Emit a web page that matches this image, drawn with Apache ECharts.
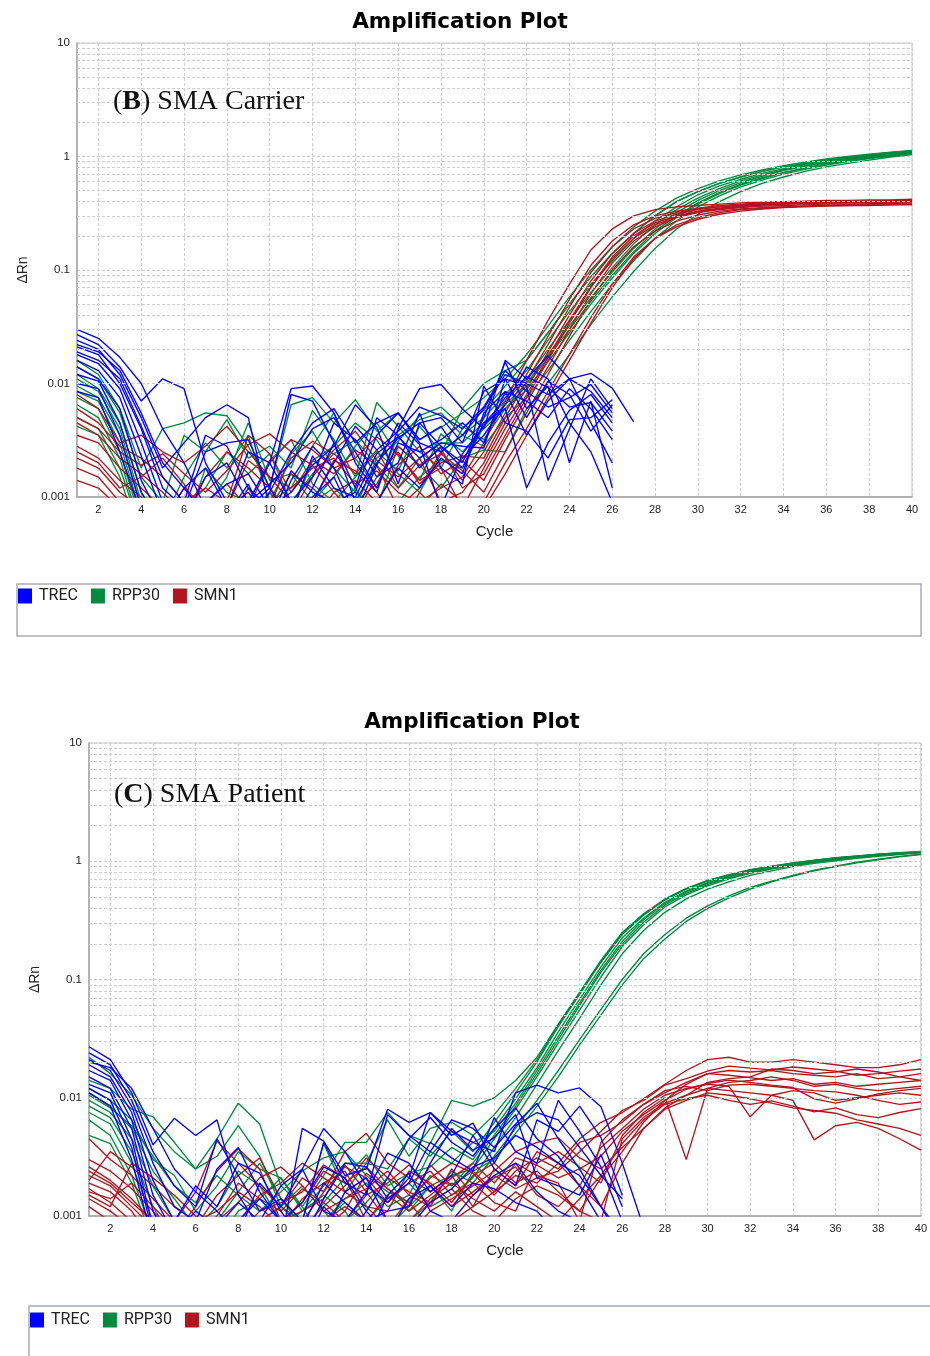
<!DOCTYPE html>
<html><head><meta charset="utf-8">
<script src="https://cdn.jsdelivr.net/npm/echarts@6/dist/echarts.min.js"></script>
<style>html,body{margin:0;padding:0;background:#fff}#c{width:930px;height:1356px}</style>
</head><body><div id="c"></div>
<script>
// ---------- axes / ticks ----------
const cycles = [1,2,3,4,5,6,7,8,9,10,11,12,13,14,15,16,17,18,19,20,21,22,23,24,25,26,27,28,29,30,31,32,33,34,35,36,37,38,39,40];
const yTicks = [0.001, 0.01, 0.1, 1, 10];
const minorGrid = [0.002,0.003,0.004,0.005,0.006,0.007,0.008,0.009,0.02,0.03,0.04,0.05,0.06,0.07,0.08,0.09,0.2,0.3,0.4,0.5,0.6,0.7,0.8,0.9,2,3,4,5,6,7,8,9];
const legendNames = ['TREC','RPP30','SMN1'];
const chartTitles = ['Amplification Plot','Amplification Plot'];
const panelLabels = [['B',' SMA Carrier'],['C',' SMA Patient']];

// ---------- (B) SMA Carrier : delta Rn per cycle ----------
const trecB = [
 [.030,.025,.017,.010,.004,.002,.0008,.0006,.0009,.002,.009,.0095,.0055,.002,.0011,.004,.009,.0098,.006,.004,.016,.011,.0175,.011,.0085,.005],
 [.027,.022,.014,.007,.011,.009,.002,.0009,.0006,.0011,.0025,.0045,.006,.003,.0045,.0055,.003,.0025,.0035,.006,.012,.01,.008,.011,.0123,.0091,.0046],
 [.024,.02,.012,.005,.0018,.003,.005,.0065,.005,.0008,.0006,.0012,.003,.0009,.002,.0033,.0045,.005,.003,.0085,.011,.0095,.0014,.004,.011,.006],
 [.021,.018,.01,.004,.0012,.0008,.0025,.003,.0032,.0012,.008,.007,.003,.0012,.005,.0035,.0018,.0028,.002,.005,.0155,.006,.0095,.002,.007,.0012],
 [.018,.015,.009,.003,.0009,.0006,.0015,.002,.0009,.0013,.002,.004,.005,.0025,.0012,.003,.0025,.0032,.0045,.003,.0085,.0035,.007,.011,.0045,.002],
 [.016,.013,.0075,.0023,.0007,.0009,.0035,.0028,.0012,.0008,.0011,.0019,.0028,.0065,.0041,.0013,.0045,.0028,.0018,.0045,.006,.0012,.003,.0058,.008,.0045],
 [.014,.011,.006,.0014,.0006,.0012,.0018,.0008,.0025,.002,.0009,.0015,.0045,.0032,.0015,.002,.0055,.0018,.0013,.0095,.0045,.0038,.0022,.0048,.005,.0072],
 [.012,.0105,.0045,.0011,.0005,.0007,.0009,.0013,.0016,.0008,.0007,.0023,.0012,.001,.0024,.0034,.0022,.003,.0028,.0027,.011,.005,.0105,.008,.0038,.0065],
 [.010,.009,.0035,.0008,.0006,.0005,.0007,.0008,.0011,.0006,.0017,.0011,.0009,.0011,.0035,.0055,.0032,.0042,.0022,.0035,.0065,.014,.011,.0045,.0025,.0009],
 [.0085,.0075,.0025,.0007,.0005,.0004,.0005,.0006,.0007,.0009,.0008,.001,.0015,.0006,.0009,.0018,.0012,.0022,.0016,.0055,.0085,.007,.005,.009,.006,.0032],
 [.022,.019,.013,.0055,.002,.0012,.0007,.0005,.0008,.0012,.0006,.0009,.002,.0042,.0026,.0038,.0062,.0052,.004,.0062,.013,.0085,.0062,.0075,.0098,.0055],
 [.019,.016,.011,.0042,.0015,.0009,.0006,.0007,.0013,.0005,.0014,.0028,.0018,.0007,.0019,.0045,.0029,.0008,.0024,.0042,.0075,.0115,.0092,.0062,.0068,.0038]
];
const rpp30B = [
 [.016,.012,.006,.0018,.004,.0045,.0055,.0052,.0028,.0012,.0065,.0075,.0045,.0072,.0038,.0055,.0032,.0041,.0055,.0075,.011,.018,.032,.058,.1,.16,.24,.33,.43,.52,.61,.69,.76,.83,.89,.95,1.0,1.05,1.09,1.13],
 [.014,.011,.0055,.0015,.0009,.0035,.0025,.0048,.0022,.0028,.0018,.0058,.0032,.0015,.0068,.0042,.0025,.0018,.004,.0058,.0095,.016,.028,.05,.087,.14,.21,.3,.4,.49,.58,.66,.74,.81,.87,.93,.98,1.03,1.08,1.12],
 [.012,.009,.0045,.0011,.0006,.0015,.003,.0018,.0035,.0009,.0012,.0028,.0055,.0022,.0012,.0035,.0048,.0055,.0035,.005,.008,.013,.024,.043,.075,.12,.19,.27,.36,.46,.55,.63,.71,.78,.85,.91,.96,1.01,1.06,1.1],
 [.011,.0085,.004,.0009,.0005,.0008,.0012,.0025,.0016,.0024,.0009,.0016,.0024,.0032,.0019,.0012,.0022,.003,.003,.0045,.007,.011,.02,.036,.063,.105,.17,.25,.34,.43,.52,.61,.69,.76,.83,.89,.94,.99,1.04,1.09],
 [.0095,.0075,.0035,.0008,.0006,.0012,.0008,.0015,.0045,.0014,.0016,.0009,.0015,.0028,.0045,.0023,.0014,.0036,.0025,.004,.006,.0095,.017,.03,.053,.09,.145,.22,.3,.39,.48,.57,.65,.72,.79,.86,.92,.97,1.02,1.07],
 [.0085,.007,.003,.0007,.0004,.0005,.0018,.0011,.0009,.0021,.0032,.0013,.0009,.0015,.0025,.0017,.0042,.0025,.0035,.0028,.005,.0075,.013,.024,.043,.075,.12,.19,.27,.36,.45,.54,.62,.7,.77,.84,.9,.96,1.01,1.06],
 [.0075,.006,.0025,.0006,.0005,.0007,.0009,.0006,.0012,.0008,.0024,.0038,.0018,.0011,.0008,.0028,.0019,.0012,.0022,.0026,.0025,.006,.01,.018,.033,.058,.097,.155,.23,.31,.4,.49,.58,.66,.74,.81,.87,.93,.99,1.04],
 [.0065,.005,.0022,.0005,.0004,.0006,.0005,.0009,.0007,.0011,.0007,.0021,.0028,.0045,.0032,.0016,.0011,.0024,.006,.01,.013,.016,.028,.05,.087,.14,.21,.3,.4,.49,.58,.66,.74,.81,.87,.93,.98,1.03,1.08,1.12],
 [.005,.004,.0018,.0005,.0004,.0005,.0006,.0005,.0008,.0006,.0005,.0009,.0012,.0008,.0022,.0031,.0052,.0062,.0042,.0032,.006,.0088,.0155,.028,.05,.085,.14,.21,.29,.38,.47,.56,.64,.72,.79,.86,.92,.97,1.02,1.07],
 [.0042,.0035,.0015,.0004,.0004,.0004,.0005,.0004,.0006,.0005,.0004,.0006,.0008,.0012,.0006,.0009,.0015,.0021,.0018,.0042,.0065,.01,.018,.032,.057,.096,.155,.23,.32,.41,.5,.59,.67,.75,.82,.88,.94,.99,1.04,1.09]
];
const smn1B = [
 [.008,.006,.003,.0035,.0025,.002,.0028,.0042,.0025,.0015,.0012,.0018,.0022,.0013,.0017,.0011,.0009,.0012,.0015,.003,.007,.016,.036,.075,.15,.23,.3,.34,.36,.37,.38,.39,.395,.4,.405,.41,.41,.415,.415,.42],
 [.006,.0045,.0028,.0022,.0015,.0009,.0012,.0009,.0035,.0024,.0011,.0021,.0016,.0026,.0019,.0008,.0012,.0025,.0014,.0025,.0055,.012,.026,.055,.11,.18,.25,.3,.33,.35,.37,.38,.39,.395,.4,.4,.405,.405,.41,.41],
 [.0045,.0035,.0022,.0016,.0011,.0007,.0015,.0025,.0018,.0012,.0007,.0015,.0026,.0038,.0021,.0015,.0022,.0009,.0011,.002,.0045,.009,.019,.04,.08,.14,.21,.27,.31,.34,.36,.37,.38,.385,.39,.39,.395,.395,.4,.4],
 [.0035,.003,.0018,.0012,.0008,.0006,.0009,.0013,.0008,.002,.0032,.0026,.0018,.0022,.0034,.0024,.0014,.0018,.0008,.0018,.004,.008,.017,.036,.072,.13,.2,.26,.3,.33,.35,.365,.375,.38,.385,.39,.39,.395,.395,.4],
 [.0028,.0022,.0014,.001,.0006,.0005,.0006,.0008,.0021,.0015,.0009,.0006,.0011,.0014,.0009,.0019,.0028,.0016,.0021,.0014,.0032,.0068,.014,.03,.062,.115,.18,.24,.29,.32,.34,.355,.365,.37,.375,.38,.38,.385,.385,.39],
 [.0022,.0018,.0011,.0008,.0005,.0004,.0005,.0006,.0009,.0008,.0016,.0012,.0008,.0009,.0013,.0028,.0019,.0024,.0017,.0011,.0025,.0055,.012,.026,.055,.1,.16,.22,.27,.305,.33,.345,.355,.36,.365,.37,.37,.375,.375,.38],
 [.0018,.0015,.0009,.0006,.0004,.0004,.0004,.0005,.0005,.0011,.0006,.0009,.0021,.0017,.0011,.0006,.0008,.0013,.0009,.0009,.002,.004,.0085,.018,.038,.075,.13,.19,.24,.28,.31,.33,.345,.355,.36,.365,.37,.37,.375,.375],
 [.0014,.0012,.0008,.0005,.0004,.0003,.0004,.0005,.0012,.0006,.0005,.0004,.0007,.001,.0008,.0005,.0011,.0007,.0006,.0008,.0016,.0035,.0075,.016,.034,.07,.125,.19,.25,.29,.32,.34,.35,.36,.365,.37,.375,.375,.38,.38],
 [.005,.004,.0025,.0019,.0024,.0016,.0011,.0017,.0029,.0036,.0025,.0019,.0011,.0007,.0015,.0025,.0013,.002,.0023,.0022,.005,.0105,.022,.047,.095,.16,.23,.285,.32,.345,.36,.375,.385,.39,.395,.4,.4,.405,.405,.41],
 [.0025,.002,.0012,.0015,.0022,.0013,.0006,.0007,.0006,.0009,.0022,.0031,.0024,.0016,.0026,.0012,.0019,.0027,.0012,.0016,.0035,.0075,.016,.034,.07,.125,.19,.25,.295,.325,.345,.36,.37,.38,.385,.39,.39,.395,.395,.4]
];

// ---------- (C) SMA Patient : delta Rn per cycle ----------
const trecC = [
 [.027,.021,.011,.004,.0067,.0048,.0065,.0015,.0008,.0006,.0055,.0043,.0022,.0025,.008,.0062,.0075,.0052,.0042,.0035,.011,.0128,.011,.0121,.0084,.0028,.0008],
 [.024,.019,.0095,.0035,.0018,.0012,.0045,.0022,.0011,.0014,.0009,.0042,.0019,.0015,.0072,.0048,.0035,.0065,.0055,.0038,.006,.009,.0045,.0025,.0012,.0007],
 [.021,.017,.0085,.0028,.0012,.0009,.0025,.0038,.0016,.0009,.0013,.0026,.0021,.0011,.0021,.0045,.0068,.0042,.0032,.0055,.0082,.0045,.0032,.0018,.0009],
 [.019,.015,.0075,.002,.0009,.0018,.0012,.0028,.0023,.0011,.0006,.0014,.0028,.0026,.0014,.0019,.0042,.0031,.0024,.0068,.0035,.0028,.0095,.0052,.0026,.0009],
 [.017,.014,.0065,.0015,.0007,.0011,.0008,.0013,.0009,.0018,.0025,.0011,.0009,.0016,.0034,.0028,.0016,.0022,.0048,.0025,.0018,.0065,.0052,.0085,.0046,.0015],
 [.015,.012,.0055,.0011,.0005,.0007,.0006,.0009,.0014,.0009,.0008,.0019,.0013,.0009,.0011,.0012,.0028,.0055,.0036,.0046,.0072,.0021,.0018,.0015,.0033,.0012],
 [.013,.011,.0045,.0008,.0004,.0005,.0004,.0006,.0008,.0005,.0009,.0007,.0016,.0021,.0009,.0008,.0013,.0017,.0026,.0031,.0048,.0038,.0028,.0022,.0012,.0006],
 [.012,.0095,.0038,.0007,.0004,.0004,.0005,.0005,.0006,.0007,.0005,.0012,.0008,.0006,.0015,.0023,.0011,.0009,.0015,.0022,.0028,.0016,.0011,.0009,.0006],
 [.011,.0085,.003,.0006,.0003,.0004,.0004,.0004,.0005,.0004,.0006,.0005,.0006,.0011,.0007,.0014,.0018,.0012,.0019,.0017,.0013,.0011,.0007,.0005],
 [.02,.018,.012,.0055,.0025,.0016,.0011,.0007,.0019,.0012,.0025,.0055,.0035,.0018,.0013,.0021,.0075,.0048,.0061,.0028,.0058,.0075,.0065,.0038,.0022,.0014]
];
const rpp30C = [
 [.022,.016,.0105,.0055,.0035,.0025,.0045,.009,.006,.0018,.0012,.0022,.0042,.0042,.0075,.0048,.0041,.0095,.0085,.01,.014,.022,.042,.078,.145,.25,.36,.48,.59,.69,.77,.85,.91,.97,1.02,1.07,1.11,1.15,1.18,1.21],
 [.014,.012,.008,.0069,.0042,.0025,.0032,.0058,.0032,.0012,.0009,.0041,.0016,.0028,.0065,.0032,.0055,.0062,.0048,.0072,.012,.021,.041,.077,.14,.245,.355,.475,.585,.685,.765,.845,.905,.965,1.015,1.065,1.105,1.145,1.175,1.205],
 [.012,.0095,.0065,.003,.0022,.0011,.0018,.0035,.0025,.0021,.0011,.0018,.0028,.0028,.0025,.0045,.0032,.0052,.0035,.0062,.011,.02,.04,.075,.14,.24,.35,.47,.58,.68,.76,.84,.9,.96,1.01,1.06,1.1,1.14,1.17,1.2],
 [.011,.0085,.0055,.0024,.0014,.0008,.0012,.0024,.0018,.0009,.0007,.0013,.0021,.0033,.0018,.0023,.0026,.0038,.003,.0055,.0098,.018,.036,.068,.128,.225,.33,.45,.56,.66,.745,.825,.89,.95,1.0,1.05,1.095,1.135,1.165,1.195],
 [.0095,.0075,.0045,.0018,.0009,.0006,.0009,.0016,.0028,.0014,.0008,.0009,.0014,.0019,.0012,.0015,.0035,.0028,.0042,.0052,.009,.017,.033,.063,.12,.21,.32,.44,.55,.65,.735,.815,.88,.94,.995,1.045,1.09,1.13,1.16,1.19],
 [.0085,.0068,.0035,.0012,.0006,.0004,.0006,.0011,.0014,.0021,.0012,.0006,.0009,.0013,.0021,.0011,.0018,.0022,.0025,.0045,.008,.015,.029,.055,.105,.19,.29,.41,.52,.62,.71,.79,.86,.92,.98,1.03,1.08,1.12,1.155,1.19],
 [.0075,.006,.0028,.0009,.0005,.0004,.0005,.0008,.0009,.0012,.0018,.0011,.0007,.0009,.0014,.0019,.0012,.0015,.0021,.0038,.0068,.013,.025,.047,.09,.165,.26,.37,.48,.58,.67,.76,.83,.9,.96,1.01,1.06,1.1,1.14,1.18],
 [.0065,.0048,.0022,.0007,.0004,.0003,.0004,.0006,.0007,.0008,.0011,.0015,.0011,.0006,.0008,.0012,.0018,.0011,.0024,.003,.005,.0085,.015,.028,.05,.09,.15,.22,.31,.4,.49,.58,.67,.75,.83,.9,.97,1.03,1.09,1.14],
 [.0048,.0041,.0019,.0006,.0004,.0003,.0003,.0005,.0006,.0005,.0007,.0009,.0013,.0009,.0007,.0009,.0013,.0024,.0019,.0032,.0055,.0095,.017,.031,.056,.1,.165,.24,.33,.42,.51,.6,.68,.76,.84,.91,.98,1.04,1.1,1.15],
 [.0105,.0082,.0058,.0032,.0018,.0013,.0022,.0015,.0011,.0016,.0024,.0031,.0035,.0022,.0016,.0013,.0022,.0018,.0028,.0048,.0085,.016,.031,.06,.115,.2,.305,.425,.535,.635,.72,.8,.87,.93,.985,1.04,1.085,1.125,1.16,1.19]
];
const smn1C = [
 [.0045,.003,.0022,.0014,.0009,.0016,.0043,.0028,.0018,.0012,.0021,.0016,.0035,.005,.0028,.0021,.0016,.0022,.0012,.0025,.0018,.0035,.0028,.0045,.0062,.0075,.0098,.013,.017,.021,.022,.02,.02,.021,.02,.019,.018,.018,.019,.021],
 [.003,.0024,.0017,.0011,.0007,.0012,.0024,.0037,.0025,.0009,.0013,.0024,.0019,.0026,.0017,.0012,.0027,.0018,.0024,.0016,.0028,.0022,.0019,.0009,.0042,.0065,.0088,.011,.0135,.016,.017,.0165,.017,.016,.0155,.015,.016,.0145,.015,.016],
 [.0026,.002,.0014,.0009,.0006,.0008,.0015,.0022,.0031,.0014,.0009,.0016,.0026,.0021,.0013,.0019,.0024,.0015,.0019,.0013,.0011,.0028,.0035,.0026,.0019,.0048,.0075,.01,.003,.012,.0135,.014,.015,.014,.0125,.013,.012,.0115,.012,.0125],
 [.0022,.0018,.0012,.0008,.0005,.0006,.0009,.0013,.0021,.0026,.0018,.0011,.0014,.0017,.0024,.0015,.0012,.0025,.0015,.0021,.0026,.0015,.0012,.0018,.0038,.0055,.008,.0105,.012,.013,.0125,.0069,.0105,.0115,.011,.0095,.01,.0105,.011,.0105],
 [.0019,.0016,.0011,.0006,.0004,.0005,.0007,.0009,.0015,.0019,.0028,.0021,.0016,.0012,.0011,.0024,.0019,.0013,.0022,.0028,.0019,.0024,.0016,.0011,.0009,.0045,.0068,.009,.0105,.012,.0115,.011,.0105,.0095,.0044,.0058,.0062,.0055,.0045,.0036],
 [.0017,.0013,.0009,.0005,.0004,.0004,.0005,.0007,.0011,.0013,.0016,.0027,.0021,.0009,.0015,.0011,.0015,.0021,.0028,.0019,.0031,.0027,.0021,.0025,.0032,.0052,.0072,.0095,.013,.016,.0155,.0148,.014,.0145,.013,.0135,.0125,.013,.0135,.014],
 [.0014,.0011,.0008,.0004,.0003,.0004,.0004,.0005,.0007,.0009,.0011,.0014,.0027,.0016,.0009,.0007,.0011,.0014,.0018,.0024,.0035,.0042,.0046,.0031,.0025,.0038,.0055,.008,.0095,.011,.0105,.0098,.009,.0082,.0078,.0074,.0065,.006,.0055,.0048],
 [.0012,.0009,.0006,.0004,.0003,.0003,.0003,.0004,.0005,.0006,.0009,.0008,.0011,.0023,.0017,.0013,.0008,.0009,.0012,.0016,.0022,.0019,.0028,.0018,.0012,.0028,.0055,.0082,.0105,.0135,.0145,.015,.0175,.017,.016,.0165,.0175,.0165,.015,.014],
 [.002,.0035,.0026,.0018,.0012,.0009,.0011,.0016,.0012,.0008,.0014,.0019,.0024,.0012,.0008,.0014,.0021,.0028,.0023,.0015,.0024,.0031,.0025,.0042,.0048,.0062,.0088,.0115,.0125,.0115,.0128,.013,.0125,.012,.0115,.0112,.0105,.0095,.0088,.0092],
 [.0015,.0012,.0028,.0021,.0015,.001,.0007,.0006,.0009,.0012,.0008,.0012,.0018,.0031,.0021,.0016,.0013,.0017,.0011,.0009,.0014,.0018,.0015,.0011,.0021,.0035,.0062,.0095,.0118,.0132,.0141,.0135,.0128,.0122,.0098,.009,.0098,.0108,.0115,.012],
 [.0024,.0019,.0013,.0009,.0006,.0007,.001,.0019,.0014,.0011,.0017,.0013,.0009,.0015,.0019,.0027,.0018,.0012,.0016,.0022,.0017,.0021,.0024,.0035,.0052,.0078,.0095,.0128,.0145,.0168,.0185,.0178,.0172,.0182,.0175,.0168,.0155,.016,.0168,.0175],
 [.0016,.0014,.0019,.0012,.0008,.0005,.0006,.0008,.0006,.0005,.0007,.0009,.0012,.0009,.0006,.0009,.0014,.0019,.0014,.0011,.0016,.0012,.0009,.0014,.0022,.0041,.0065,.0088,.0098,.0105,.0095,.0088,.0094,.0085,.0076,.0082,.0072,.0068,.0075,.0081]
];

// ---------- styling ----------
const colors = { TREC: '#0000ff', RPP30: '#008a3e', SMN1: '#b0161f' };
const gridLineColor = '#cfcfcf';
const labelFont = 'Liberation Sans';

const chart = echarts.init(document.getElementById('c'), null, { renderer: 'canvas' });

function xAxis(gi) {
  return {
    type: 'category', gridIndex: gi, data: cycles.map(String), boundaryGap: false,
    axisLine: { show: true, lineStyle: { color: '#a3a3a3', width: 1.5 } },
    axisTick: { show: false },
    axisLabel: { interval: (i) => i % 2 === 1, color: '#222', fontSize: 11, fontFamily: labelFont, margin: 7 },
    splitLine: { show: true, interval: (i) => i % 2 === 1, lineStyle: { color: gridLineColor, type: [3, 2], width: 1 } },
    name: 'Cycle', nameLocation: 'middle', nameGap: 27,
    nameTextStyle: { fontSize: 15, fontFamily: labelFont, color: '#222' }
  };
}
function yAxis(gi, gap) {
  return {
    type: 'log', logBase: 10, gridIndex: gi, min: yTicks[0], max: yTicks[yTicks.length - 1],
    axisLine: { show: true, lineStyle: { color: '#a3a3a3', width: 1.5 } },
    axisTick: { show: false },
    axisLabel: { color: '#222', fontSize: 11.5, fontFamily: labelFont, margin: 7,
      formatter: (v) => String(+Number(v).toPrecision(3)) },
    splitLine: { show: true, lineStyle: { color: gridLineColor, type: [3, 2], width: 1 } },
    name: 'ΔRn', nameLocation: 'middle', nameGap: gap, nameRotate: 90,
    nameTextStyle: { fontSize: 14, fontFamily: labelFont, color: '#222' }
  };
}

const series = [];
function gridSeries(gi) {
  series.push({
    type: 'line', xAxisIndex: gi, yAxisIndex: gi, data: [], silent: true, z: 1,
    markLine: { silent: true, symbol: 'none', animation: false, label: { show: false },
      lineStyle: { color: gridLineColor, type: [3, 2], width: 1 },
      emphasis: { disabled: true },
      data: minorGrid.map(v => ({ yAxis: v })) }
  });
}
function addGroup(arr, name, gi) {
  arr.forEach(d => series.push({
    type: 'line', name: name, xAxisIndex: gi, yAxisIndex: gi, data: d,
    symbol: 'none', showSymbol: false, clip: true, silent: true, z: 2,
    lineStyle: { width: 1.35, color: colors[name] }, itemStyle: { color: colors[name] },
    emphasis: { disabled: true }
  }));
}
gridSeries(0); gridSeries(1);
addGroup(rpp30B, 'RPP30', 0); addGroup(smn1B, 'SMN1', 0); addGroup(trecB, 'TREC', 0);
addGroup(rpp30C, 'RPP30', 1); addGroup(smn1C, 'SMN1', 1); addGroup(trecC, 'TREC', 1);

function legend(left, top) {
  return {
    left: left, top: top, orient: 'horizontal', padding: 0, itemGap: 13,
    itemWidth: 14, itemHeight: 15, icon: 'rect', selectedMode: false,
    data: legendNames,
    textStyle: { fontFamily: 'Roboto', fontSize: 16, color: '#222', padding: [0, 0, 0, 2] }
  };
}

function panelText(x, y, parts) {
  return {
    type: 'text', x: x, y: y, z: 10, silent: true,
    style: {
      text: '{a|(}{b|' + parts[0] + '}{a|)' + parts[1] + '}',
      verticalAlign: 'middle',
      rich: {
        a: { fontSize: 28, fontFamily: 'Liberation Serif', fill: '#111' },
        b: { fontSize: 28, fontFamily: 'Liberation Serif', fontWeight: 'bold', fill: '#111' }
      }
    }
  };
}
function titleText(x, y, t) {
  return { type: 'text', x: x, y: y, z: 10, silent: true,
    style: { text: t, align: 'center', verticalAlign: 'middle', fontSize: 21.5, fontWeight: 'bold', fontFamily: 'DejaVu Sans', fill: '#000' } };
}

const option = {
  animation: false,
  backgroundColor: '#fff',
  grid: [
    { left: 77, top: 43, width: 835, height: 454, show: true, borderColor: '#c4c4c4', borderWidth: 1, backgroundColor: '#fff' },
    { left: 89, top: 743, width: 835, height: 473, show: true, borderColor: '#c4c4c4', borderWidth: 1, backgroundColor: '#fff' }
  ],
  xAxis: [xAxis(0), xAxis(1)],
  yAxis: [yAxis(0, 47), yAxis(1, 46)],
  legend: [legend(18, 588), legend(30, 1312)],
  graphic: { elements: [
    { type: 'rect', z: 0, silent: true, shape: { x: 17, y: 584, width: 904, height: 52 },
      style: { fill: '#fff', stroke: '#a9abb5', lineWidth: 1.5 } },
    { type: 'polyline', z: 0, silent: true, shape: { points: [[29, 1356], [29, 1306], [930, 1306]] },
      style: { fill: null, stroke: '#a9abb5', lineWidth: 1.5 } },
    titleText(460, 22, chartTitles[0]),
    titleText(472, 722, chartTitles[1]),
    panelText(113, 102, panelLabels[0]),
    panelText(114, 795, panelLabels[1])
  ] },
  series: series
};
chart.setOption(option);
</script>
</body></html>
